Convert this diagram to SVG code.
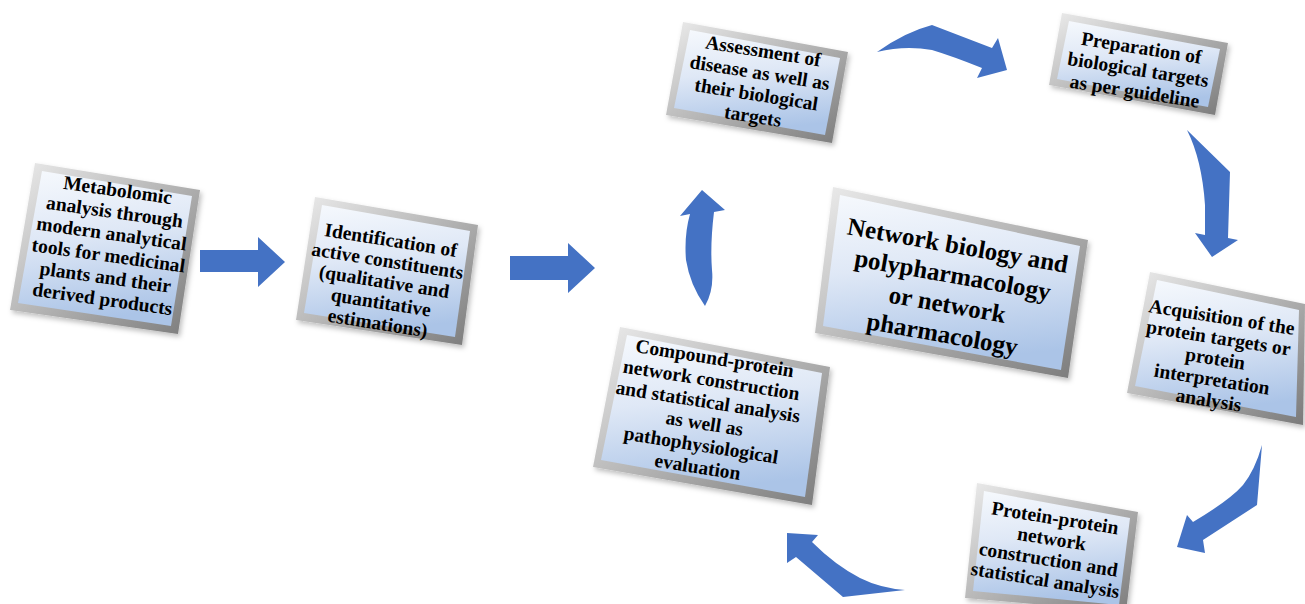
<svg xmlns="http://www.w3.org/2000/svg" width="1305" height="604" viewBox="0 0 1305 604">
<defs>
<linearGradient id="bevel" x1="0" y1="0" x2="1" y2="1">
<stop offset="0" stop-color="#ececec"/>
<stop offset="0.5" stop-color="#b4b4b4"/>
<stop offset="1" stop-color="#7a7a7a"/>
</linearGradient>
<linearGradient id="face" x1="0" y1="0" x2="0.15" y2="1">
<stop offset="0" stop-color="#f6f9fd"/>
<stop offset="0.45" stop-color="#dfe8f6"/>
<stop offset="1" stop-color="#abc4e7"/>
</linearGradient>
<filter id="sh" x="-10%" y="-10%" width="130%" height="130%">
<feDropShadow dx="2" dy="3" stdDeviation="2.5" flood-color="#000" flood-opacity="0.25"/>
</filter>
</defs>
<style>
.outer{fill:url(#bevel);filter:url(#sh)}
.inner{fill:url(#face)}
.t{font-family:"Liberation Serif","Times New Roman",serif;font-weight:bold;font-size:19.5px;fill:#000;text-anchor:middle}
.big{font-size:25px}
.arr{fill:#4472c4}
</style>
<rect width="1305" height="604" fill="#fff"/>

<g id="connectors">
<path class="arr" d="M200,250 L258,250 L258,237 L285,262 L258,287 L258,272 L200,272 Z"/>
<path class="arr" d="M510,256 L568,256 L568,243 L595,268 L568,293 L568,280 L510,280 Z"/>
<path class="arr" d="M702,190 L725,210 L714,212 Q710,245 712,270 Q714,290 705,306 Q690,285 686,260 Q684,235 690,214 L680,216 Z"/>
<path class="arr" d="M877,52 Q905,32 932,25 L992,48 L998,38 L1007,70 L977,78 L982,68 Q952,56 932,50 Q905,45 877,52 Z"/>
<path class="arr" d="M1187,130 L1230,172 L1228,238 L1238,240 L1212,257 L1195,233 L1205,235 L1205,205 Q1202,160 1187,130 Z"/>
<path class="arr" d="M1262,445 L1257,505 L1203,540 L1205,553 L1177,547 L1187,515 L1193,522 Q1230,500 1243,485 Q1255,470 1262,445 Z"/>
<path class="arr" d="M787,533 L818,535 L812,542 Q835,565 860,578 Q880,588 905,590 L843,597 L796,557 L787,563 Z"/>
</g>

<g id="n1">
<polygon class="outer" points="35,163 200,190 178,334 10,310"/>
<polygon class="inner" points="42,171 192,196 171,326 18,303"/>
<g transform="rotate(8 110 245)">
<text class="t" x="110" y="196">Metabolomic</text>
<text class="t" x="110" y="218">analysis through</text>
<text class="t" x="110" y="240">modern analytical</text>
<text class="t" x="110" y="262">tools for medicinal</text>
<text class="t" x="110" y="284">plants and their</text>
<text class="t" x="110" y="306">derived products</text>
</g>
</g>

<g id="n2">
<polygon class="outer" points="315,197 478,225 462,345 296,320"/>
<polygon class="inner" points="322,205 470,231 455,337 304,313"/>
<g transform="rotate(9 384 283)">
<text class="t" x="384" y="246">Identification of</text>
<text class="t" x="384" y="267">active constituents</text>
<text class="t" x="384" y="288">(qualitative and</text>
<text class="t" x="384" y="309">quantitative</text>
<text class="t" x="384" y="330">estimations)</text>
</g>
</g>

<g id="n3">
<polygon class="outer" points="683,22 848,52 832,143 666,115"/>
<polygon class="inner" points="690,30 840,58 825,135 674,108"/>
<g transform="rotate(9 758 84)">
<text class="t" x="758" y="57">Assessment of</text>
<text class="t" x="758" y="79">disease as well as</text>
<text class="t" x="758" y="101">their biological</text>
<text class="t" x="758" y="123">targets</text>
</g>
</g>

<g id="n4">
<polygon class="outer" points="1062,13 1228,43 1215,115 1049,85"/>
<polygon class="inner" points="1069,21 1220,49 1208,107 1057,79"/>
<g transform="rotate(9 1138 70)">
<text class="t" x="1138" y="54">Preparation of</text>
<text class="t" x="1138" y="76">biological targets</text>
<text class="t" x="1138" y="98">as per guideline</text>
</g>
</g>

<g id="n5">
<polygon class="outer" points="833,187 1088,240 1068,378 815,333"/>
<polygon class="inner" points="840,195 1080,246 1061,370 823,326"/>
<g transform="rotate(10 950 290)">
<text class="t big" x="950" y="253">Network biology and</text>
<text class="t big" x="950" y="283">polypharmacology</text>
<text class="t big" x="950" y="313">or network</text>
<text class="t big" x="950" y="343">pharmacology</text>
</g>
</g>

<g id="n6">
<polygon class="outer" points="1150,272 1305,304 1303,425 1127,393"/>
<polygon class="inner" points="1157,280 1299,310 1296,417 1135,386"/>
<g transform="rotate(9 1215 360)">
<text class="t" x="1215" y="323">Acquisition of the</text>
<text class="t" x="1215" y="344">protein targets or</text>
<text class="t" x="1215" y="365">protein</text>
<text class="t" x="1215" y="386">interpretation</text>
<text class="t" x="1215" y="407">analysis</text>
</g>
</g>

<g id="n7">
<polygon class="outer" points="977,483 1138,512 1126,612 965,598"/>
<polygon class="inner" points="984,491 1130,518 1119,605 973,591"/>
<g transform="rotate(9 1050 550)">
<text class="t" x="1050" y="524">Protein-protein</text>
<text class="t" x="1050" y="545">network</text>
<text class="t" x="1050" y="566">construction and</text>
<text class="t" x="1050" y="587">statistical analysis</text>
</g>
</g>

<g id="n8">
<polygon class="outer" points="620,327 830,367 812,505 593,467"/>
<polygon class="inner" points="627,335 822,373 805,497 601,460"/>
<g transform="rotate(9 706 414)">
<text class="t" x="706" y="364">Compound-protein</text>
<text class="t" x="706" y="386">network construction</text>
<text class="t" x="706" y="408">and statistical analysis</text>
<text class="t" x="706" y="430">as well as</text>
<text class="t" x="706" y="452">pathophysiological</text>
<text class="t" x="706" y="474">evaluation</text>
</g>
</g>
</svg>
